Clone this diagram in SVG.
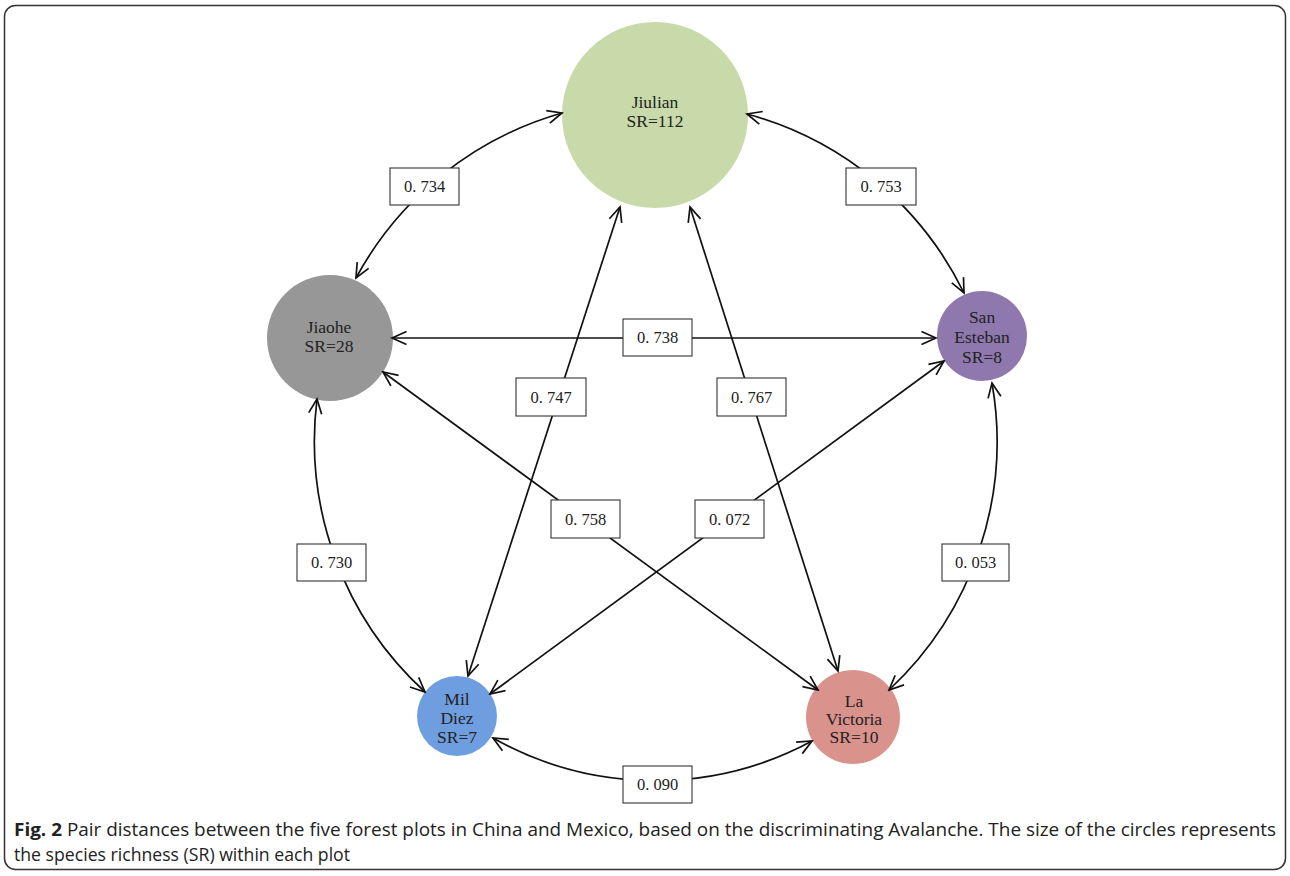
<svg xmlns="http://www.w3.org/2000/svg" width="1290" height="876" viewBox="0 0 1290 876">
<defs>
<marker id="arr" markerUnits="userSpaceOnUse" markerWidth="18" markerHeight="18" viewBox="0 0 18 18" refX="16" refY="9" orient="auto-start-reverse">
<path d="M1.5,2.5 L16,9 L1.5,15.5" fill="none" stroke="#111" stroke-width="1.7"/>
</marker>
<style>
.edge{fill:none;stroke:#111;stroke-width:1.7;marker-start:url(#arr);marker-end:url(#arr)}
.box{fill:#fff;stroke:#333;stroke-width:1.1}
.lbl{font-family:"Liberation Serif",serif;font-size:16.5px;fill:#222;text-anchor:middle}
.nt{font-family:"Liberation Serif",serif;font-size:17.5px;fill:#222;text-anchor:middle}
.cap{font-family:"Open Sans",sans-serif;font-size:18px;fill:#222}
</style>
</defs>
<rect x="4.5" y="5.5" width="1281" height="864" rx="11" fill="#fff" stroke="#333" stroke-width="1.5"/>

<g id="nodes">
<g id="jiulian"><circle cx="655" cy="115" r="93" fill="#c8daa9"/><text class="nt" x="655" y="108">Jiulian</text><text class="nt" x="655" y="127">SR=112</text></g>
<g id="jiaohe"><circle cx="330" cy="338" r="63" fill="#979797"/><text class="nt" x="329" y="333">Jiaohe</text><text class="nt" x="329" y="352">SR=28</text></g>
<g id="sanesteban"><circle cx="982" cy="336" r="45" fill="#8e78ad"/><text class="nt" x="982" y="323">San</text><text class="nt" x="982" y="343">Esteban</text><text class="nt" x="982" y="363">SR=8</text></g>
<g id="mildiez"><circle cx="457" cy="716" r="40" fill="#6e9edf"/><text class="nt" x="457" y="705">Mil</text><text class="nt" x="457" y="724">Diez</text><text class="nt" x="457" y="743">SR=7</text></g>
<g id="lavictoria"><circle cx="853" cy="717" r="47" fill="#da928d"/><text class="nt" x="854" y="707">La</text><text class="nt" x="854" y="725">Victoria</text><text class="nt" x="854" y="743">SR=10</text></g>
</g>

<g id="connectors">
<path class="edge" d="M356,278 A340,340 0 0 1 562,113"/>
<path class="edge" d="M747,114 A340,340 0 0 1 964,293"/>
<path class="edge" d="M992,383 A340,340 0 0 1 889,690"/>
<path class="edge" d="M812,741 A330,330 0 0 1 493,738"/>
<path class="edge" d="M425,692 A340,340 0 0 1 317,399"/>
<path class="edge" d="M392,338 L936,338"/>
<path class="edge" d="M468,676 L620,207"/>
<path class="edge" d="M838,671 L690,207"/>
<path class="edge" d="M383,372 L818,690"/>
<path class="edge" d="M944,361 L490,694"/>
</g>

<g id="labels">
<rect class="box" x="390" y="168" width="69" height="37"/><text class="lbl" x="424.5" y="192">0. 734</text>
<rect class="box" x="846" y="168" width="70" height="37"/><text class="lbl" x="881" y="192">0. 753</text>
<rect class="box" x="623" y="319" width="69" height="37"/><text class="lbl" x="657.5" y="343">0. 738</text>
<rect class="box" x="516" y="378" width="70" height="38"/><text class="lbl" x="551" y="403">0. 747</text>
<rect class="box" x="717" y="378" width="69" height="38"/><text class="lbl" x="751.5" y="403">0. 767</text>
<rect class="box" x="551" y="500" width="69" height="38"/><text class="lbl" x="585.5" y="525">0. 758</text>
<rect class="box" x="695" y="500" width="69" height="38"/><text class="lbl" x="729.5" y="525">0. 072</text>
<rect class="box" x="297" y="544" width="69" height="37"/><text class="lbl" x="331.5" y="568">0. 730</text>
<rect class="box" x="942" y="544" width="67" height="37"/><text class="lbl" x="975.5" y="568">0. 053</text>
<rect class="box" x="623" y="766" width="69" height="37"/><text class="lbl" x="657.5" y="790">0. 090</text>
</g>

<g id="caption">
<text class="cap" x="14" y="836" textLength="1262" lengthAdjust="spacingAndGlyphs"><tspan font-weight="bold">Fig. 2</tspan> Pair distances between the five forest plots in China and Mexico, based on the discriminating Avalanche. The size of the circles represents</text>
<text class="cap" x="14" y="861" textLength="336" lengthAdjust="spacingAndGlyphs">the species richness (SR) within each plot</text>
</g>
</svg>
